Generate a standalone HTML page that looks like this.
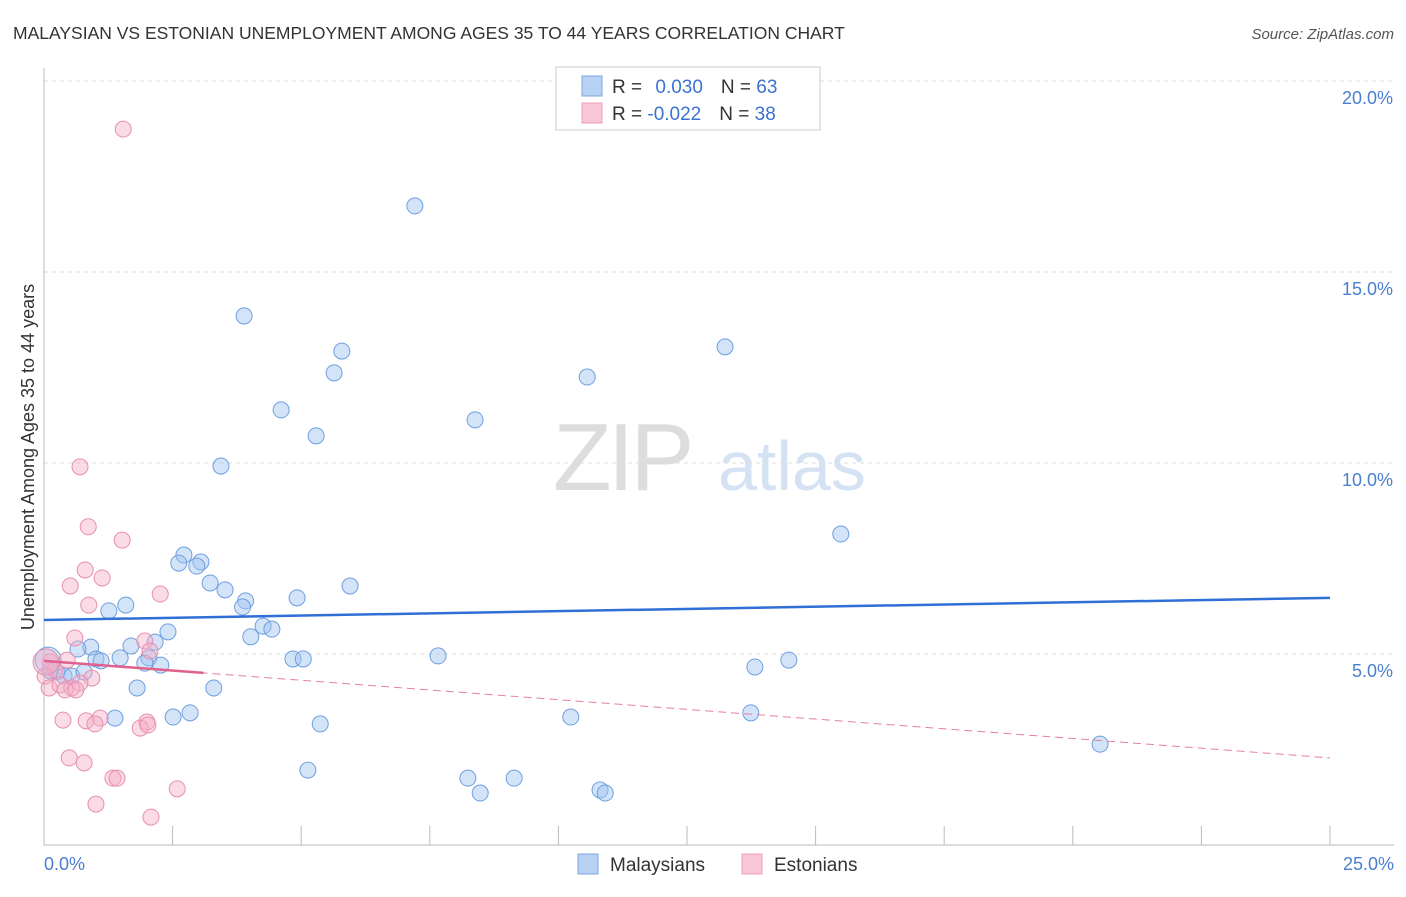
<!DOCTYPE html>
<html><head><meta charset="utf-8"><style>
body{margin:0;background:#fff;font-family:"Liberation Sans",sans-serif;}
svg text{font-family:"Liberation Sans",sans-serif;}
</style></head><body>
<svg width="1406" height="892" viewBox="0 0 1406 892" id="c">
<text x="13" y="39" font-size="17.5" fill="#333">MALAYSIAN VS ESTONIAN UNEMPLOYMENT AMONG AGES 35 TO 44 YEARS CORRELATION CHART</text>
<text x="1394" y="39" font-size="15" fill="#555" font-style="italic" text-anchor="end">Source: ZipAtlas.com</text>
<g>
<text x="553" y="490" font-size="96" fill="#ddd" font-family="Liberation Serif" letter-spacing="-4">ZIP</text>
<text x="718" y="490" font-size="70" fill="#d4e2f4">atlas</text>
</g>
<g id="grid"></g>
<g id="axes"></g>
<g id="marks"></g>
<g>
<rect x="556" y="67" width="264" height="63" fill="#fff" stroke="#ccc"/>
<rect x="582" y="76" width="20" height="20" fill="#b8d2f4" stroke="#7aa6e0"/>
<rect x="582" y="103" width="20" height="20" fill="#f8c6d6" stroke="#eaa0ba"/>
<text x="612" y="93" font-size="19" fill="#333">R = <tspan fill="#3b73d0" dx="8">0.030</tspan><tspan fill="#333" dx="18">N = </tspan><tspan fill="#3b73d0">63</tspan></text>
<text x="612" y="120" font-size="19" fill="#333">R = <tspan fill="#3b73d0">-0.022</tspan><tspan fill="#333" dx="18">N = </tspan><tspan fill="#3b73d0">38</tspan></text>
</g>
<g>
<rect x="578" y="854" width="20" height="20" fill="#b8d2f4" stroke="#7aa6e0"/>
<text x="610" y="871" font-size="19" fill="#333">Malaysians</text>
<rect x="742" y="854" width="20" height="20" fill="#f8c6d6" stroke="#eaa0ba"/>
<text x="774" y="871" font-size="19" fill="#333">Estonians</text>
</g>
<text transform="translate(34,457) rotate(-90)" font-size="18" fill="#333" text-anchor="middle">Unemployment Among Ages 35 to 44 years</text>
</svg>
<script>
const yTicks=[5,10,15,20];
const yTickLabels=["5.0%","10.0%","15.0%","20.0%"];
const xTicks=[0,2.5,5,7.5,10,12.5,15,17.5,20,22.5,25];
const malX=[7.21,3.89,5.79,5.64,13.24,10.56,4.61,8.38,5.29,3.44,15.49,2.72,2.62,3.05,2.97,3.23,3.52,5.95,4.92,3.92,3.86,1.59,1.26,4.26,4.43,4.02,2.41,2.16,1.69,0.91,0.66,1.01,1.11,1.48,2.04,1.96,2.27,4.84,5.04,7.66,14.48,13.82,0.25,0.39,0.54,0.78,0.12,1.81,3.30,1.38,2.51,2.84,5.37,10.24,13.74,20.53,5.13,8.24,8.48,9.14,10.81,10.91,0.08];
const malY=[16.73,13.85,12.93,12.36,13.04,12.25,11.39,11.13,10.71,9.92,8.14,7.59,7.38,7.41,7.30,6.86,6.68,6.78,6.47,6.39,6.23,6.28,6.13,5.73,5.65,5.45,5.58,5.31,5.21,5.18,5.13,4.87,4.82,4.90,4.90,4.76,4.71,4.87,4.87,4.95,4.84,4.66,4.53,4.42,4.42,4.53,4.56,4.11,4.11,3.32,3.35,3.46,3.17,3.35,3.46,2.64,1.96,1.75,1.36,1.75,1.44,1.36,4.84];
const estX=[1.54,0.70,0.86,1.52,0.80,1.13,0.51,2.26,0.87,0.60,1.96,2.06,0.45,0.12,0.21,0.02,0.93,0.10,0.31,0.54,0.70,0.41,0.62,1.09,0.37,0.82,0.99,2.00,1.87,2.02,0.49,0.78,1.34,1.42,2.59,1.01,2.08,0.04];
const estY=[18.74,9.90,8.33,7.98,7.20,6.99,6.78,6.57,6.28,5.42,5.34,5.08,4.84,4.79,4.58,4.42,4.37,4.11,4.19,4.11,4.24,4.06,4.06,3.32,3.27,3.25,3.17,3.22,3.06,3.14,2.28,2.15,1.75,1.75,1.47,1.07,0.73,4.79];
const malTrend=[5.89,6.47];
const estTrend=[4.82,2.28];
const estSolidEnd=3.1;
const X=v=>44+v/25*1286, Y=v=>845-v*38.2;
const NS="http://www.w3.org/2000/svg";
function mk(t,a,p){const e=document.createElementNS(NS,t);for(const k in a)e.setAttribute(k,a[k]);p.appendChild(e);return e;}
const grid=document.getElementById('grid'),axes=document.getElementById('axes'),marks=document.getElementById('marks');
yTicks.forEach((t,i)=>{
 const l=mk('line',{x1:44,x2:1394,y1:Y(t),y2:Y(t),stroke:'#ddd','stroke-dasharray':'4,4'},grid);
 
 
 const tx=mk('text',{x:1393,y:Y(t)+23,'font-size':18,fill:'#4a7fd0','text-anchor':'end'},axes);
 tx.textContent=yTickLabels[i];
 
 
});
const ya=mk('line',{x1:44,x2:44,y1:68,y2:845,stroke:'#bbb'},axes);


const xa=mk('line',{x1:44,x2:1394,y1:845,y2:845,stroke:'#bbb'},axes);


xTicks.forEach(t=>{const l=mk('line',{x1:X(t),x2:X(t),y1:826,y2:845,stroke:'#bbb'},axes);
 
 });
[[0,"0.0%",'start',44],[25,"25.0%",'end',1394]].forEach(a=>{const t=mk('text',{x:a[3],y:870,'font-size':18,fill:'#4a7fd0','text-anchor':a[2]},axes);t.textContent=a[1];
 
 });
malX.forEach((x,i)=>{const c=mk('circle',{cx:X(x),cy:Y(malY[i]),r:i==malX.length-1?13:8,fill:'rgba(160,195,240,0.45)',stroke:'#6e9fe0','stroke-width':1},marks);
 
 });
estX.forEach((x,i)=>{const c=mk('circle',{cx:X(x),cy:Y(estY[i]),r:i==estX.length-1?13:8,fill:'rgba(245,175,200,0.45)',stroke:'#e88fb0','stroke-width':1},marks);
 
 });
const bt=mk('line',{x1:X(0),y1:Y(malTrend[0]),x2:X(25),y2:Y(malTrend[1]),stroke:'#2f6fd6','stroke-width':2.5},marks);


const ey=v=>estTrend[0]+(estTrend[1]-estTrend[0])*v/25;
const pd=mk('line',{x1:X(0),y1:Y(estTrend[0]),x2:X(25),y2:Y(estTrend[1]),stroke:'#e77fa3','stroke-width':1,'stroke-dasharray':'8,5'},marks);


const ps=mk('line',{x1:X(0),y1:Y(estTrend[0]),x2:X(estSolidEnd),y2:Y(ey(estSolidEnd)),stroke:'#e0608e','stroke-width':2.5},marks);


</script>
</body></html>
